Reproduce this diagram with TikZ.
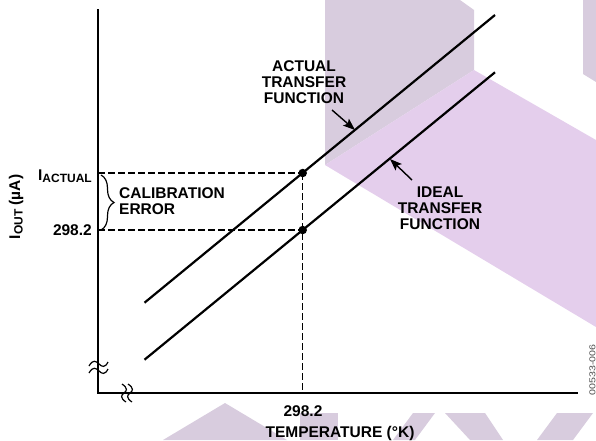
\documentclass[tikz,border=0pt]{standalone}
\usepackage{fontspec}
\setmainfont{Liberation Sans}
\usetikzlibrary{arrows.meta,positioning,decorations.pathreplacing}

\definecolor{wmgrey}{RGB}{216,204,222}
\definecolor{wmpink}{RGB}{228,206,236}
\newcommand{\subtext}[1]{\raisebox{-2.5pt}{\fontsize{12}{12}\selectfont #1}}

\begin{document}
\begin{tikzpicture}[x=1pt, y=-1pt]
		\tikzstyle{label_text} = [font=\fontsize{15.5}{16}\selectfont\bfseries, inner sep=0pt, align=center]
		\tikzstyle{axis_line} = [line width=2.2pt]
		\tikzstyle{transfer_line} = [line width=2.2pt]
		\tikzstyle{guide_line} = [line width=1.3pt, dash pattern=on 6.5pt off 3.5pt]
		\tikzstyle{break_mark} = [line width=1.2pt]
		\tikzstyle{pointer} = [line width=1.4pt, -{Stealth[length=12pt,width=9pt,inset=2.5pt]}]
		\tikzstyle{point_node} = [circle, fill=black, minimum size=8.5pt, inner sep=0pt]

		\useasboundingbox (0,0) rectangle (596,440);

		% Watermark
		\fill[wmgrey] (325,0) -- (460,0) -- (474,10) -- (474,70) -- (325,165) -- cycle;
		\fill[wmgrey] (583,0) -- (596,0) -- (596,82) -- (583,74) -- cycle;
		\fill[wmpink] (325,165) -- (474,70) -- (596,140) -- (596,327) -- cycle;
		\fill[wmgrey] (163,440) -- (225,403) -- (287,440) -- cycle;
		\fill[wmgrey] (300,413) rectangle (338,440);
		\fill[wmgrey] (413,413) -- (435,413) -- (415,440) -- (393,440) -- cycle;
		\fill[wmgrey] (445,413) -- (485,413) -- (503,440) -- (470,440) -- cycle;
		\fill[wmgrey] (557,413) -- (593,413) -- (573,440) -- (537,440) -- cycle;

		% Axes
		\coordinate (O) at (98,393);
		\coordinate (Ytop) at (98,9);
		\coordinate (Xend) at (578,393);
		\draw[axis_line] (Ytop) -- (O) -- (Xend);
		% Axis breaks
		\draw[break_mark] (89,366) .. controls (93,359) and (96,361) .. (99,364) .. controls (102,367) and (105,368) .. (108,362);
		\draw[break_mark] (89,373) .. controls (93,366) and (96,368) .. (99,371) .. controls (102,374) and (105,375) .. (108,369);
		\foreach \bx in {124,130}
		\draw[break_mark] (\bx-2,384) .. controls (\bx+4,388) and (\bx+3,391) .. (\bx,393) .. controls (\bx-3,395) and (\bx-4,398) .. (\bx+2,402);

		% Transfer functions
		\coordinate (A1) at (144.5,302.7);
		\coordinate (A2) at (495,15);
		\coordinate (B1) at (144.5,359.7);
		\coordinate (B2) at (495,72.3);
		\draw[transfer_line] (A1) -- (A2);
		\draw[transfer_line] (B1) -- (B2);

		% Calibration points
		\node[point_node] (pA) at (302.7,173) {};
		\node[point_node] (pI) at (302.7,230) {};
		\coordinate (yA) at (98,173);
		\coordinate (yI) at (98,230);
		\coordinate (xT) at (302.7,393);
		\draw[guide_line] (yA) -- (pA.center);
		\draw[guide_line] (yI) -- (pI.center);
		\draw[guide_line] (pA.center) -- (xT);

		% Calibration error brace
		\coordinate (brA) at (101,175);
		\coordinate (brI) at (101,230);
		\draw[line width=1.2pt, decorate, decoration={brace, amplitude=13pt}] (brA) -- (brI);
		\node[label_text, anchor=west, align=left] (calib) at (119,201) {CALIBRATION\\ERROR};

		% Labels
		\node[label_text, anchor=base east] (iactual) at (92,180) {I\subtext{ACTUAL}};
		\node[label_text, anchor=base east] (ylow) at (92,235.5) {298.2};
		\node[label_text, anchor=base] (xval) at (303,416) {298.2};
		\node[label_text, anchor=base] (xlabel) at (340,437) {TEMPERATURE (°K)};
		\node[label_text, rotate=90] (ylabel) at (16,207) {I\subtext{OUT} (µA)};
		\node[label_text] (actual) at (304,82) {ACTUAL\\TRANSFER\\FUNCTION};
		\node[label_text] (ideal) at (440,208) {IDEAL\\TRANSFER\\FUNCTION};
		\node[font=\fontsize{8.5}{9}\selectfont, text=black!70, rotate=90, inner sep=0pt] (figno) at (592.5,370) {\scalebox{1.25}[1]{00533-006}};

		% Pointers
		\coordinate (tA) at (332,110);
		\coordinate (hA) at (355,130);
		\coordinate (tI) at (412,180);
		\coordinate (hI) at (390,159);
		\draw[pointer] (tA) -- (hA);
		\draw[pointer] (tI) -- (hI);
	\end{tikzpicture}
\end{document}
